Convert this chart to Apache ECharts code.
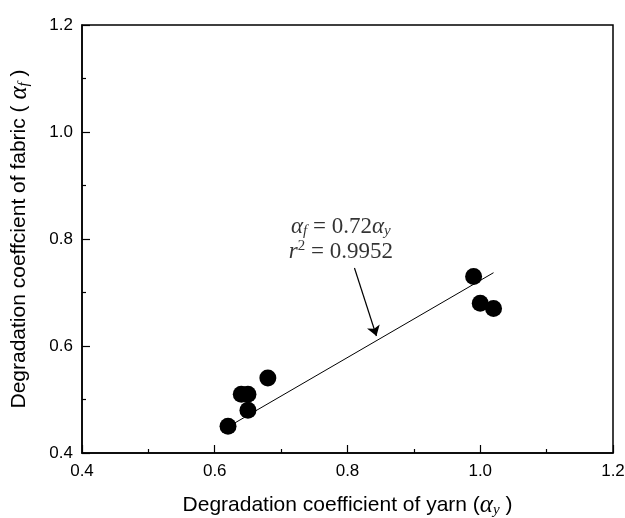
<!DOCTYPE html>
<html><head><meta charset="utf-8">
<script src="https://cdn.jsdelivr.net/npm/echarts@6/dist/echarts.min.js"></script>
<style>html,body{margin:0;padding:0;background:#fff}#c{width:625px;height:518px}</style>
</head><body><div id="c"></div>
<script>
const yarnCoef = [0.62, 0.64, 0.65, 0.65, 0.68, 0.99, 1.00, 1.02];
const fabricCoef = [0.45, 0.51, 0.51, 0.48, 0.54, 0.73, 0.68, 0.67];
const fitX = [0.63, 1.02];
const fitY = [0.456, 0.737];
const arrowStart = [0.8105, 0.7458];
const arrowEnd = [0.8436, 0.6187];
const textPos = [0.79, 0.80];
const xTicks = [0.4, 0.6, 0.8, 1.0, 1.2];
const yTicks = [0.4, 0.6, 0.8, 1.0, 1.2];

const W = 625, H = 518;
const G = {left: 82, top: 25, right: 12, bottom: 65};

const chart = echarts.init(document.getElementById('c'));
const richName = {
  t: {fontFamily: 'Liberation Sans', fontSize: 21, color: '#000'},
  g: {fontFamily: 'Liberation Serif', fontStyle: 'italic', fontSize: 25, color: '#000'},
  s: {fontFamily: 'Liberation Serif', fontStyle: 'italic', fontSize: 15, color: '#000', verticalAlign: 'bottom', padding: [9,0,0,0]}
};
function makeAxis(ticks, name, gap, margin) {
  return {
    type: 'value', min: 0.4, max: 1.2, interval: 0.2, gridIndex: 0,
    axisLine: {show: true, onZero: false, lineStyle: {color: '#000', width: 1.5}},
    axisTick: {show: false}, minorTick: {show: false},
    splitLine: {show: false}, minorSplitLine: {show: false},
    axisLabel: {color: '#000', fontFamily: 'Liberation Sans', fontSize: 17, margin: margin,
      formatter: v => ticks.includes(+v.toFixed(1)) ? v.toFixed(1) : ''},
    name: name, nameLocation: 'middle', nameGap: gap,
    nameTextStyle: {color: '#000', fontFamily: 'Liberation Sans', fontSize: 21, rich: richName}
  };
}
function tickAxis(position, gridIndex) {
  return {
    type: 'value', min: 0.4, max: 1.2, interval: 0.2, position: position, gridIndex: gridIndex,
    axisLine: {show: false, onZero: false},
    axisTick: {show: true, inside: false, length: 8, lineStyle: {color: '#000', width: 1.2}},
    minorTick: {show: true, splitNumber: 2, length: 4, lineStyle: {color: '#000', width: 1.2}},
    splitLine: {show: false}, minorSplitLine: {show: false},
    axisLabel: {show: false}
  };
}
function hiddenAxis(gridIndex) {
  return {type: 'value', min: 0, max: 1, gridIndex: gridIndex, show: false};
}
const plotBottom = H - G.bottom;
chart.setOption({
  animation: false,
  grid: [
    Object.assign({outerBoundsMode: 'none', containLabel: false, show: true, borderColor: '#000', borderWidth: 1.5, backgroundColor: 'transparent'}, G),
    {outerBoundsMode: 'none', containLabel: false, left: G.left, right: G.right, top: plotBottom, height: 10},
    {outerBoundsMode: 'none', containLabel: false, left: G.left - 10, width: 10, top: G.top, bottom: G.bottom}
  ],
  xAxis: [
    makeAxis(xTicks, '{t|Degradation coefficient of yarn (}{g|α}{s|y}{t| )}', 40, 10),
    tickAxis('top', 1),
    hiddenAxis(2)
  ],
  yAxis: [
    makeAxis(yTicks, '{t|Degradation coeffcient of fabric ( }{g|α}{s|f}{t| )}', 50, 9),
    hiddenAxis(1),
    tickAxis('right', 2)
  ],
  series: [
    {
      type: 'scatter', symbol: 'circle', symbolSize: 17,
      itemStyle: {color: '#000', opacity: 1},
      data: yarnCoef.map((x, i) => [x, fabricCoef[i]]), z: 3
    },
    {
      type: 'line', symbol: 'none', lineStyle: {color: '#000', width: 1},
      data: fitX.map((x, i) => [x, fitY[i]]),
      markLine: {
        silent: true, symbol: ['none', 'arrow'], symbolSize: 10,
        lineStyle: {color: '#000', width: 1.2, type: 'solid'}, label: {show: false},
        data: [[{coord: arrowStart}, {coord: arrowEnd}]]
      }
    },
    {
      type: 'scatter', symbolSize: 0, data: [textPos], silent: true,
      label: {
        show: true, position: 'inside', color: '#000', align: 'center', verticalAlign: 'middle',
        formatter: '{a|α}{s|f}{n| = 0.72}{a|α}{s|y}\n{a|r}{p|2}{n| = 0.9952}',
        rich: {
          a: {fontFamily: 'Liberation Serif', fontStyle: 'italic', fontSize: 23, lineHeight: 25, color: '#000'},
          n: {fontFamily: 'Liberation Serif', fontSize: 23, lineHeight: 25, color: '#000'},
          s: {fontFamily: 'Liberation Serif', fontStyle: 'italic', fontSize: 15, lineHeight: 25, verticalAlign: 'bottom', padding: [7,0,0,0], color: '#000'},
          p: {fontFamily: 'Liberation Serif', fontSize: 15, lineHeight: 25, verticalAlign: 'top', padding: [0,0,7,0], color: '#000'}
        }
      }
    }
  ]
});
</script></body></html>
